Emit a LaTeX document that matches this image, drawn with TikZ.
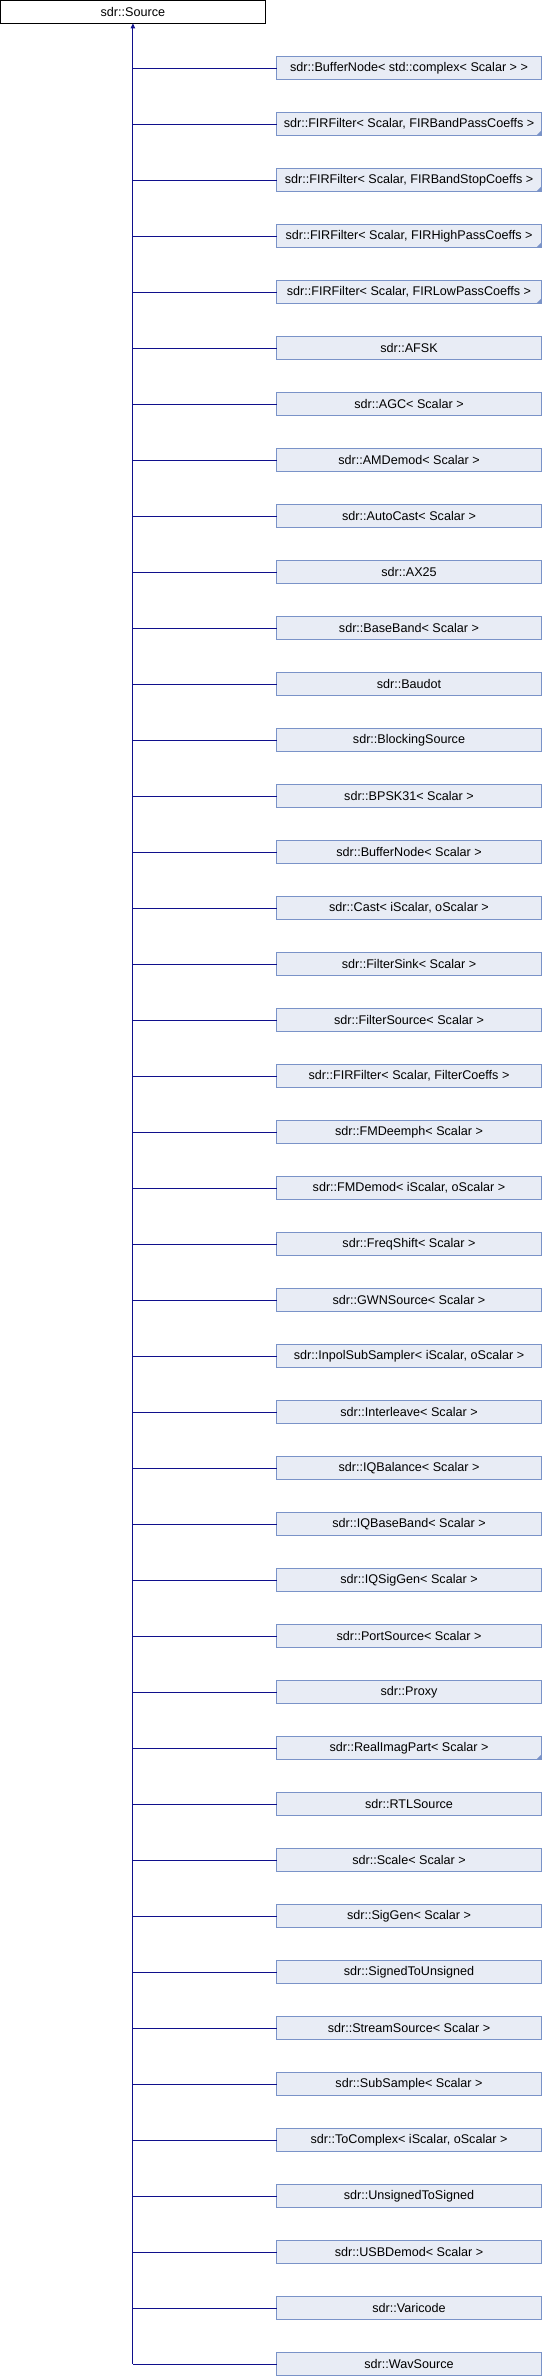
\documentclass[tikz,border=0pt]{standalone}
\usepackage{fontspec}
\setmainfont{Liberation Sans}
\usepackage{xcolor}
\usepackage{tikz}
\usetikzlibrary{arrows.meta, positioning}

\definecolor{boxfill}{HTML}{E8ECF5}
\definecolor{boxline}{HTML}{7A93C8}
\definecolor{edge}{HTML}{10108C}

\begin{document}
\begin{tikzpicture}[
    node distance=33.5pt,
    base/.style={rectangle, draw, inner sep=0pt, outer sep=0pt, minimum width=265pt, minimum height=22.5pt, line width=0.8pt, font=\fontsize{12.6}{14}\selectfont},
    root/.style={base, draw=black, fill=white, minimum height=23pt},
    cls/.style={base, draw=boxline, fill=boxfill},
    more/.style={cls, path picture={\fill[boxline] (path picture bounding box.south east) -- ++(-5pt,0pt) -- ++(5pt,5pt) -- cycle;}},
    link/.style={draw=edge, line width=0.9pt},
    arrow/.style={link, -{Triangle[width=4.5pt, length=5pt]}}
]
\useasboundingbox (0pt,0pt) rectangle (542pt,-2376pt);

% Base class
\node[root, anchor=north west] (source) at (0.4pt,-0.4pt) {sdr::Source};

% Derived classes
\node[cls, anchor=west] (bufcplx) at (276.5pt,-68pt) {sdr::BufferNode< std::complex< Scalar > >};
\node[more, below=of bufcplx] (firbp) {sdr::FIRFilter< Scalar, FIRBandPassCoeffs >};
\node[more, below=of firbp] (firbs) {sdr::FIRFilter< Scalar, FIRBandStopCoeffs >};
\node[more, below=of firbs] (firhp) {sdr::FIRFilter< Scalar, FIRHighPassCoeffs >};
\node[more, below=of firhp] (firlp) {sdr::FIRFilter< Scalar, FIRLowPassCoeffs >};
\node[cls, below=of firlp] (afsk) {sdr::AFSK};
\node[cls, below=of afsk] (agc) {sdr::AGC< Scalar >};
\node[cls, below=of agc] (amdemod) {sdr::AMDemod< Scalar >};
\node[cls, below=of amdemod] (autocast) {sdr::AutoCast< Scalar >};
\node[cls, below=of autocast] (ax25) {sdr::AX25};
\node[cls, below=of ax25] (baseband) {sdr::BaseBand< Scalar >};
\node[cls, below=of baseband] (baudot) {sdr::Baudot};
\node[cls, below=of baudot] (blocking) {sdr::BlockingSource};
\node[cls, below=of blocking] (bpsk) {sdr::BPSK31< Scalar >};
\node[cls, below=of bpsk] (bufnode) {sdr::BufferNode< Scalar >};
\node[cls, below=of bufnode] (cast) {sdr::Cast< iScalar, oScalar >};
\node[cls, below=of cast] (fsink) {sdr::FilterSink< Scalar >};
\node[cls, below=of fsink] (fsource) {sdr::FilterSource< Scalar >};
\node[cls, below=of fsource] (fir) {sdr::FIRFilter< Scalar, FilterCoeffs >};
\node[cls, below=of fir] (fmdeemph) {sdr::FMDeemph< Scalar >};
\node[cls, below=of fmdeemph] (fmdemod) {sdr::FMDemod< iScalar, oScalar >};
\node[cls, below=of fmdemod] (freqshift) {sdr::FreqShift< Scalar >};
\node[cls, below=of freqshift] (gwn) {sdr::GWNSource< Scalar >};
\node[cls, below=of gwn] (inpol) {sdr::InpolSubSampler< iScalar, oScalar >};
\node[cls, below=of inpol] (interleave) {sdr::Interleave< Scalar >};
\node[cls, below=of interleave] (iqbal) {sdr::IQBalance< Scalar >};
\node[cls, below=of iqbal] (iqbase) {sdr::IQBaseBand< Scalar >};
\node[cls, below=of iqbase] (iqsiggen) {sdr::IQSigGen< Scalar >};
\node[cls, below=of iqsiggen] (port) {sdr::PortSource< Scalar >};
\node[cls, below=of port] (proxy) {sdr::Proxy};
\node[more, below=of proxy] (realimag) {sdr::RealImagPart< Scalar >};
\node[cls, below=of realimag] (rtl) {sdr::RTLSource};
\node[cls, below=of rtl] (scale) {sdr::Scale< Scalar >};
\node[cls, below=of scale] (siggen) {sdr::SigGen< Scalar >};
\node[cls, below=of siggen] (s2u) {sdr::SignedToUnsigned};
\node[cls, below=of s2u] (stream) {sdr::StreamSource< Scalar >};
\node[cls, below=of stream] (subsample) {sdr::SubSample< Scalar >};
\node[cls, below=of subsample] (tocplx) {sdr::ToComplex< iScalar, oScalar >};
\node[cls, below=of tocplx] (u2s) {sdr::UnsignedToSigned};
\node[cls, below=of u2s] (usbdemod) {sdr::USBDemod< Scalar >};
\node[cls, below=of usbdemod] (varicode) {sdr::Varicode};
\node[cls, below=of varicode] (wav) {sdr::WavSource};

% Inheritance lines
\draw[arrow] (source.south |- wav.west) -- (source.south);
\draw[link] (source.south |- bufcplx.west) -- (bufcplx.west);
\draw[link] (source.south |- firbp.west) -- (firbp.west);
\draw[link] (source.south |- firbs.west) -- (firbs.west);
\draw[link] (source.south |- firhp.west) -- (firhp.west);
\draw[link] (source.south |- firlp.west) -- (firlp.west);
\draw[link] (source.south |- afsk.west) -- (afsk.west);
\draw[link] (source.south |- agc.west) -- (agc.west);
\draw[link] (source.south |- amdemod.west) -- (amdemod.west);
\draw[link] (source.south |- autocast.west) -- (autocast.west);
\draw[link] (source.south |- ax25.west) -- (ax25.west);
\draw[link] (source.south |- baseband.west) -- (baseband.west);
\draw[link] (source.south |- baudot.west) -- (baudot.west);
\draw[link] (source.south |- blocking.west) -- (blocking.west);
\draw[link] (source.south |- bpsk.west) -- (bpsk.west);
\draw[link] (source.south |- bufnode.west) -- (bufnode.west);
\draw[link] (source.south |- cast.west) -- (cast.west);
\draw[link] (source.south |- fsink.west) -- (fsink.west);
\draw[link] (source.south |- fsource.west) -- (fsource.west);
\draw[link] (source.south |- fir.west) -- (fir.west);
\draw[link] (source.south |- fmdeemph.west) -- (fmdeemph.west);
\draw[link] (source.south |- fmdemod.west) -- (fmdemod.west);
\draw[link] (source.south |- freqshift.west) -- (freqshift.west);
\draw[link] (source.south |- gwn.west) -- (gwn.west);
\draw[link] (source.south |- inpol.west) -- (inpol.west);
\draw[link] (source.south |- interleave.west) -- (interleave.west);
\draw[link] (source.south |- iqbal.west) -- (iqbal.west);
\draw[link] (source.south |- iqbase.west) -- (iqbase.west);
\draw[link] (source.south |- iqsiggen.west) -- (iqsiggen.west);
\draw[link] (source.south |- port.west) -- (port.west);
\draw[link] (source.south |- proxy.west) -- (proxy.west);
\draw[link] (source.south |- realimag.west) -- (realimag.west);
\draw[link] (source.south |- rtl.west) -- (rtl.west);
\draw[link] (source.south |- scale.west) -- (scale.west);
\draw[link] (source.south |- siggen.west) -- (siggen.west);
\draw[link] (source.south |- s2u.west) -- (s2u.west);
\draw[link] (source.south |- stream.west) -- (stream.west);
\draw[link] (source.south |- subsample.west) -- (subsample.west);
\draw[link] (source.south |- tocplx.west) -- (tocplx.west);
\draw[link] (source.south |- u2s.west) -- (u2s.west);
\draw[link] (source.south |- usbdemod.west) -- (usbdemod.west);
\draw[link] (source.south |- varicode.west) -- (varicode.west);
\draw[link] (source.south |- wav.west) -- (wav.west);

\end{tikzpicture}
\end{document}
